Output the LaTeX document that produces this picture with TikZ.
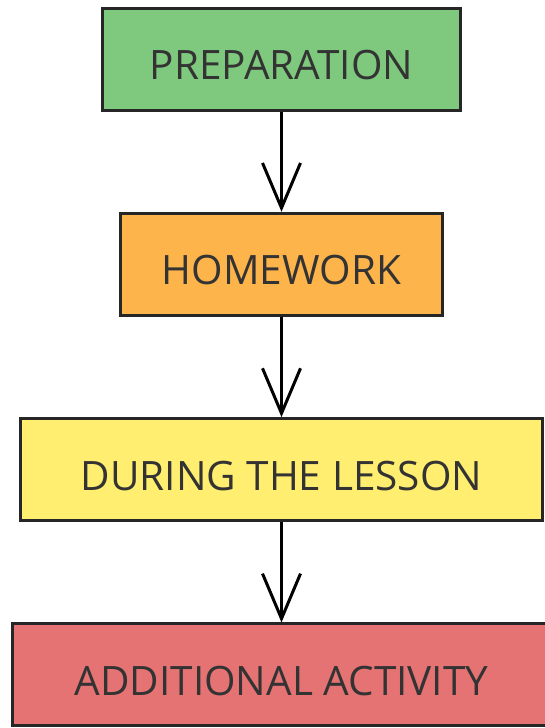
\documentclass[tikz,border=0pt]{standalone}
\usepackage{fontspec}
\setmainfont{Open Sans}
\usetikzlibrary{arrows.meta}
\definecolor{prepgreen}{HTML}{7FC97F}
\definecolor{homeorange}{HTML}{FDB44B}
\definecolor{lessonyellow}{HTML}{FFEE6F}
\definecolor{extrared}{HTML}{E57373}
\tikzstyle{stagebox} = [draw=black!85, line width=3pt, minimum height=102pt, inner sep=0pt, text height=41pt, text depth=0pt, text=black!80, font=\fontsize{40.5}{44}\selectfont]
\tikzstyle{arrow} = [draw, line width=3pt, color=black, -{Straight Barb[length=45pt,width=38pt]}]
\begin{document}
\begin{tikzpicture}[x=1pt,y=-1pt]
\useasboundingbox (0,0) rectangle (544,728);
\foreach \c/\w/\i [count=\n] in
{prepgreen/358/PREPARATION,homeorange/322/HOMEWORK,lessonyellow/522/DURING THE LESSON,extrared/538/ADDITIONAL ACTIVITY}
\node[stagebox,fill=\c,minimum width=\w pt] at (281.5,{59+(\n-1)*205.33}) (S\n) {\i};

\foreach \n [evaluate=\n as \m using int(\n+1)] in {1,2,3}
\draw[arrow] (S\n.south) -- (S\m.north);
\end{tikzpicture}
\end{document}
